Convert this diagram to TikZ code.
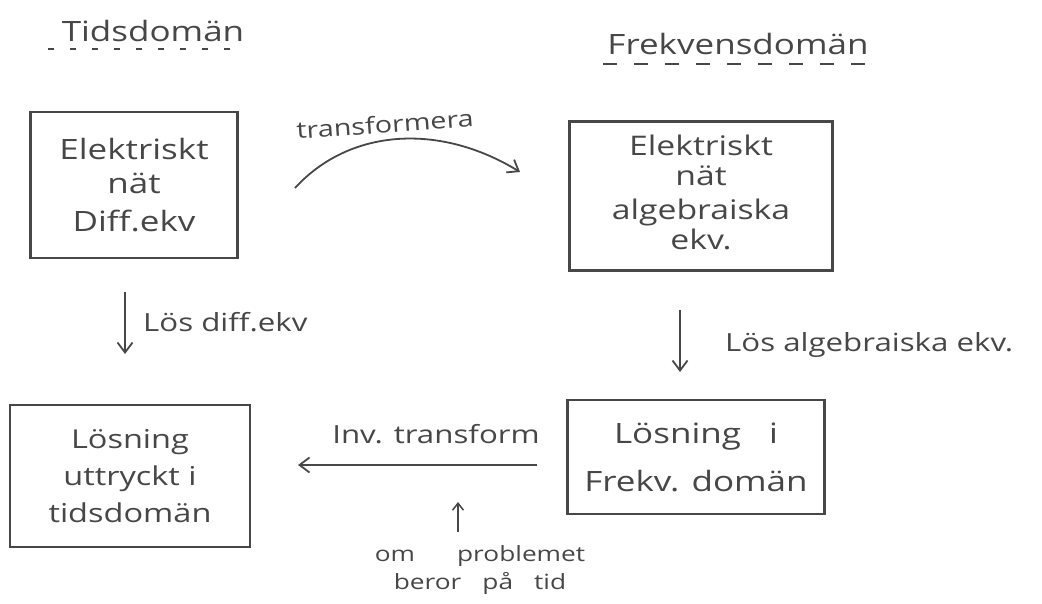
\documentclass[tikz,border=0pt]{standalone}
\usepackage{fontspec}
\setmainfont{Open Sans}[FakeStretch=1.25]
\usetikzlibrary{arrows.meta}
\definecolor{ink}{HTML}{474747}
\begin{document}
\begin{tikzpicture}[x=1pt,y=-1pt,
  box/.style={draw=ink, line width=2.4pt, rectangle, align=center, text=ink, font=\fontsize{28}{34}\selectfont, inner sep=0pt},
  lbl/.style={text=ink, font=\fontsize{25}{30}\selectfont, align=center, inner sep=0pt},
  head/.style={text=ink, font=\fontsize{28}{32}\selectfont, inner sep=0pt},
  conn/.style={draw=ink, line width=1.8pt, -{Straight Barb[length=10pt,width=15pt]}}
]
\useasboundingbox (0,0) rectangle (1042,604);
\fill[white] (0,0) rectangle (1042,604);

% column headings with dashed underlines
\node[head] (thead) at (153,31) {Tidsdomän};
\draw[ink, line width=2pt, dash pattern=on 6pt off 16pt] (48,49) -- (246,49);
\node[head] (fhead) at (738,44) {Frekvensdomän};
\draw[ink, line width=2.4pt, dash pattern=on 14pt off 17pt] (603,64) -- (866,64);

% boxes
\node[box, minimum width=207pt, minimum height=146pt] (tnet) at (134,185)
  {Elektriskt\\nät\\[4pt]Diff.ekv};
\node[box, minimum width=263pt, minimum height=149pt, font=\fontsize{27}{30}\selectfont] (fnet) at (701,196)
  {\mbox{}\\[-16pt]Elektriskt\\nät\\[4pt]algebraiska\\ekv.};
\node[box, minimum width=240pt, minimum height=142pt, font=\fontsize{26}{37}\selectfont] (tsol) at (130,476)
  {Lösning\\uttryckt i\\tidsdomän};
\node[box, minimum width=257pt, minimum height=114pt] (fsol) at (696,457)
  {Lösning\quad i\\[14pt]Frekv. domän};

% transform arrow
\coordinate (trA) at (295,188);
\coordinate (trB) at (520,172);
\draw[conn] (trA) .. controls (350,128) and (440,123) .. (trB);
\node[lbl, rotate=4, font=\fontsize{23}{28}\selectfont] (trl) at (385,124) {transformera};

% solve arrows
\coordinate (ldA) at (125,292);
\coordinate (ldB) at (125,354);
\draw[conn] (ldA) -- (ldB);
\node[lbl, anchor=west] (ldl) at (143,322) {Lös diff.ekv};

\coordinate (rdA) at (680,310);
\coordinate (rdB) at (680,372);
\draw[conn] (rdA) -- (rdB);
\node[lbl, anchor=west] (rdl) at (725,345) {Lös algebraiska ekv.};

% inverse transform
\coordinate (ivA) at (537,465);
\coordinate (ivB) at (298,465);
\draw[conn] (ivA) -- (ivB);
\node[lbl] (ivl) at (436,434) {Inv. transform};

% condition note
\node[lbl, font=\fontsize{21}{28}\selectfont] (note) at (480,570) {om\qquad problemet\\beror\quad på\quad tid};
\coordinate (upA) at (458,532);
\coordinate (upB) at (458,502);
\draw[conn, -{Straight Barb[length=7pt,width=11pt]}, line width=1.5pt] (upA) -- (upB);
\end{tikzpicture}
\end{document}
